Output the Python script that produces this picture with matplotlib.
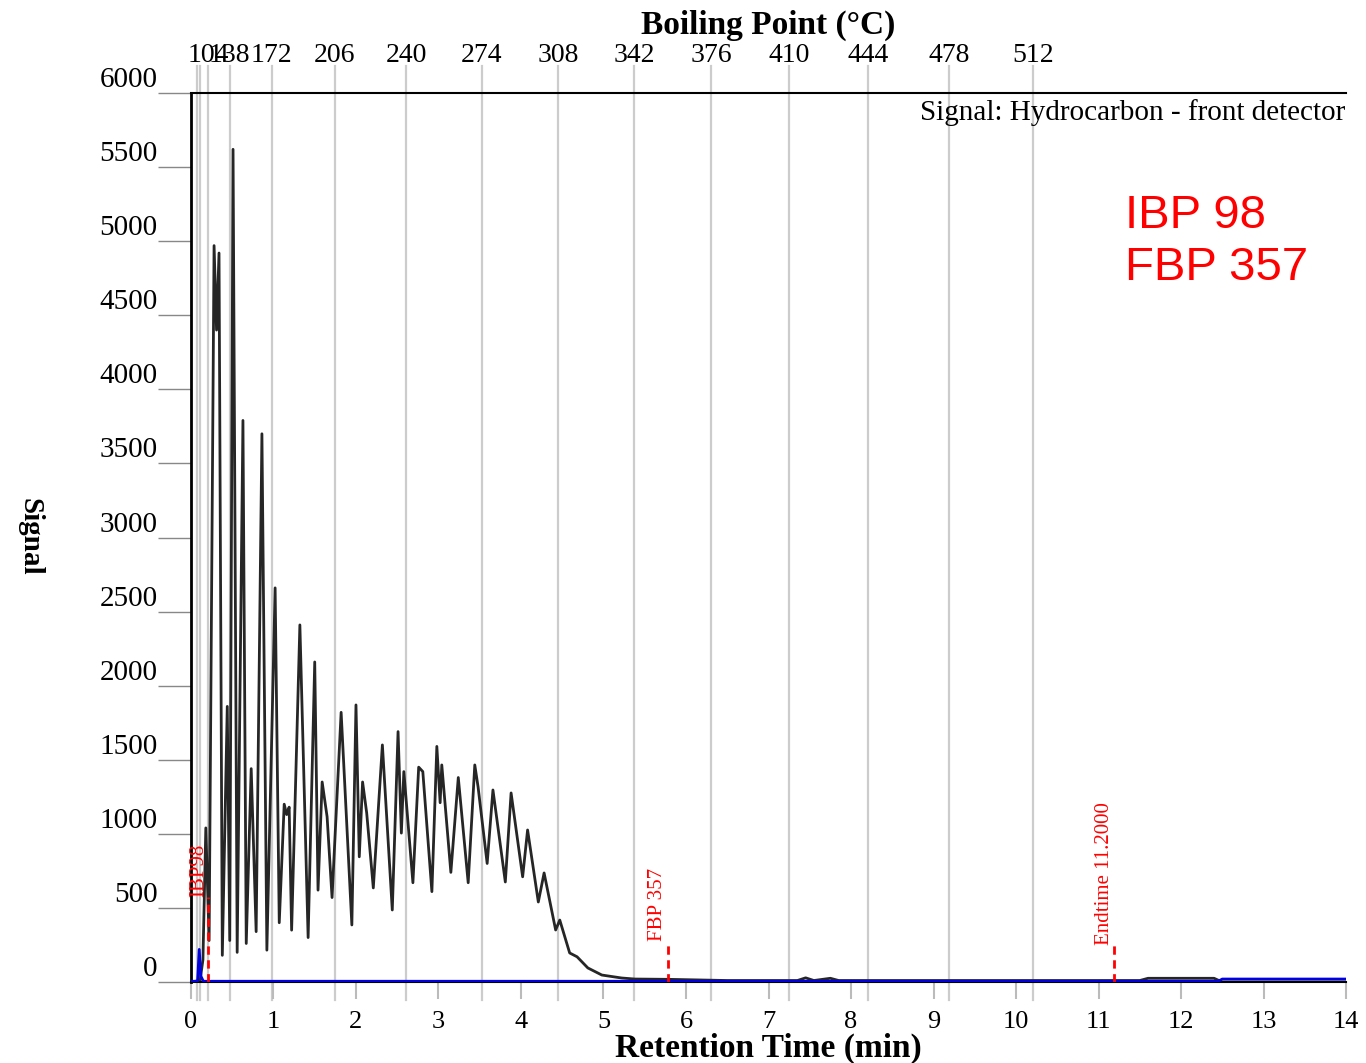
import numpy as np
import matplotlib.pyplot as plt

# hydrocarbon signal (peaks and valleys)
ret_time = [0.00, 0.11, 0.145, 0.18, 0.22, 0.28, 0.31, 0.34, 0.38, 0.44, 0.47, 0.51,
            0.56, 0.63, 0.67, 0.73, 0.79, 0.86, 0.92, 1.02, 1.07, 1.13, 1.16, 1.19,
            1.22, 1.32, 1.42, 1.50, 1.54, 1.59, 1.65, 1.71, 1.82, 1.95, 2.00, 2.04,
            2.08, 2.13, 2.21, 2.32, 2.44, 2.51, 2.55, 2.58, 2.69, 2.76, 2.81, 2.92,
            2.98, 3.02, 3.04, 3.15, 3.24, 3.36, 3.44, 3.48, 3.59, 3.66, 3.81, 3.88,
            4.02, 4.08, 4.21, 4.28, 4.42, 4.47, 4.59, 4.68, 4.81, 4.98, 5.22, 5.38,
            5.78, 6.50, 7.35, 7.45, 7.55, 7.75, 7.85, 11.50, 11.60, 12.40, 12.50, 14.00]
signal = [0, 10, 150, 1040, 280, 4970, 4400, 4920, 180, 1860, 280, 5620,
          200, 3790, 260, 1440, 340, 3700, 215, 2660, 400, 1200, 1130, 1180,
          350, 2410, 300, 2160, 620, 1350, 1115, 570, 1820, 385, 1870, 845,
          1350, 1140, 635, 1600, 486, 1690, 1005, 1420, 670, 1450, 1420, 610,
          1590, 1210, 1465, 740, 1380, 670, 1465, 1316, 800, 1296, 675, 1276,
          710, 1026, 540, 736, 351, 418, 196, 170, 95, 47, 27, 20,
          18, 10, 10, 28, 10, 25, 10, 10, 25, 25, 0, 0]

# blue trace (front detector blank)
blank_time = [0.00, 0.08, 0.10, 0.12, 0.15, 12.45, 12.50, 14.00]
blank_signal = [5, 5, 220, 40, 5, 5, 20, 20]

# boiling point grid (top axis)
bp_time = [0.07, 0.11, 0.21, 0.47, 0.98, 1.745, 2.606, 3.527, 4.448, 5.37,
           6.303, 7.248, 8.206, 9.188, 10.202]
bp_labels = ['', '', '104', '138', '172', '206', '240', '274', '308', '342',
             '376', '410', '444', '478', '512']

# red markers
mark_names = ['IBP98', 'FBP 357', 'Endtime 11.2000']
mark_time = [0.21, 5.78, 11.19]
mark_height = [575, 280, 250]

plt.rcParams['font.family'] = ['Liberation Serif', 'DejaVu Serif']

fig = plt.figure(figsize=(13.66, 10.63), dpi=100)
ax = fig.add_axes([0.1398, 0.0762, 0.8456, 0.8363])
ax.set_xlim(0, 14)
ax.set_ylim(0, 6000)

for t in bp_time:
    ax.axvline(t, ymin=-0.02, ymax=1.03, color='#cccccc', lw=1.6,
               clip_on=False, zorder=0)

ax.plot(ret_time, signal, color='#262626', lw=2, zorder=2)
ax.plot(blank_time, blank_signal, color='#0000e0', lw=2, zorder=3)

for name, t, h in zip(mark_names, mark_time, mark_height):
    ax.plot([t, t], [0, h], color='red', ls=(0, (3, 2)), lw=2, zorder=4)
    ax.text(t - 0.12, h, name, rotation=90, ha='center', va='bottom',
            color='red', fontsize=15, zorder=4)

ax.spines['right'].set_visible(False)
ax.spines['left'].set_linewidth(2)
ax.spines['top'].set_linewidth(1.5)
ax.spines['bottom'].set_linewidth(1.5)

ax.set_yticks(range(0, 6001, 500))
ax.tick_params(axis='y', length=24, width=1, color='#888888', pad=0, labelsize=21)
for lab in ax.get_yticklabels():
    lab.set_va('bottom')

ax.set_xticks(range(15))
ax.tick_params(axis='x', length=12, width=1.5, color='#bbbbbb', pad=9, labelsize=19)

ax2 = ax.twiny()
ax2.set_xlim(0, 14)
ax2.set_xticks(bp_time)
ax2.set_xticklabels(bp_labels)
ax2.tick_params(axis='x', length=0, pad=18, labelsize=20)
for s in ax2.spines.values():
    s.set_visible(False)

ax.text(0.999, 0.993, 'Signal: Hydrocarbon - front detector', transform=ax.transAxes,
        ha='right', va='top', fontsize=21)

fig.text(0.8236, 0.8175, 'IBP 98\nFBP 357', family='Liberation Sans', fontsize=34,
         color='red', ha='left', va='top', linespacing=1.25)

fig.text(0.5626, 0.976, 'Boiling Point (°C)', ha='center', va='center',
         fontweight='bold', fontsize=24)
fig.text(0.5626, 0.014, 'Retention Time (min)', ha='center', va='center',
         fontweight='bold', fontsize=24)
fig.text(0.022, 0.495, 'Signal', rotation=270, ha='center', va='center',
         fontweight='bold', fontsize=21)

fig.savefig('out.png', dpi=100)
